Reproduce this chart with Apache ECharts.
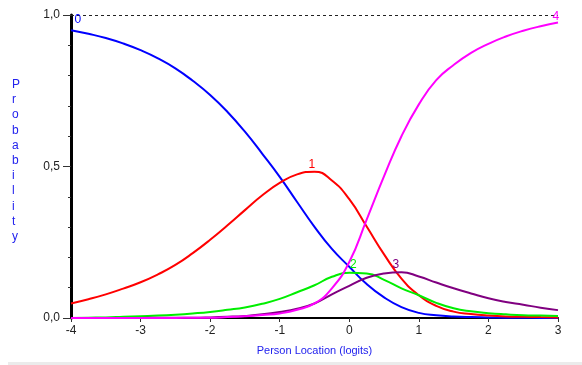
<!DOCTYPE html>
<html>
<head>
<meta charset="utf-8">
<script src="https://cdn.jsdelivr.net/npm/echarts@6/dist/echarts.min.js"></script>
<style>
  html, body { margin: 0; padding: 0; background: #fff; }
  #cv { width: 582px; height: 365px; }
</style>
</head>
<body>
<div id="cv"></div>
<script>
// person location (logits)
var theta = [-4, -3.75, -3.5, -3.25, -3, -2.75, -2.5, -2.25, -2, -1.75, -1.5, -1.25, -1, -0.75,
    -0.5, -0.25, 0, 0.25, 0.5, 0.75, 1, 1.25, 1.5, 1.75, 2, 2.25, 2.5, 2.75, 3];

// category probability curves
var cat0 = [0.950, 0.938, 0.924, 0.906, 0.884, 0.857, 0.824, 0.783, 0.736, 0.680, 0.615, 0.542, 0.466, 0.383,
    0.301, 0.228, 0.169, 0.112, 0.068, 0.036, 0.017, 0.009, 0.005, 0.003, 0.002, 0.001, 0.001, 0.000, 0.000];
var cat1 = [0.048, 0.062, 0.078, 0.097, 0.118, 0.144, 0.175, 0.214, 0.258, 0.306, 0.356, 0.405, 0.446, 0.474,
    0.483, 0.454, 0.392, 0.302, 0.210, 0.130, 0.075, 0.040, 0.021, 0.013, 0.008, 0.005, 0.004, 0.003, 0.002];
var cat2 = [0.000, 0.001, 0.002, 0.004, 0.006, 0.008, 0.011, 0.015, 0.020, 0.027, 0.035, 0.047, 0.063, 0.085,
    0.108, 0.136, 0.149, 0.147, 0.126, 0.098, 0.075, 0.050, 0.032, 0.022, 0.016, 0.012, 0.009, 0.008, 0.007];
var cat3 = [0.000, 0.000, 0.000, 0.000, 0.000, 0.001, 0.001, 0.001, 0.002, 0.004, 0.007, 0.012, 0.020, 0.031,
    0.048, 0.078, 0.106, 0.133, 0.147, 0.151, 0.137, 0.117, 0.098, 0.081, 0.065, 0.053, 0.044, 0.034, 0.026];
var cat4 = [0.000, 0.000, 0.000, 0.000, 0.000, 0.000, 0.000, 0.001, 0.001, 0.003, 0.006, 0.010, 0.015, 0.027,
    0.048, 0.098, 0.185, 0.325, 0.468, 0.600, 0.705, 0.785, 0.835, 0.875, 0.905, 0.929, 0.948, 0.963, 0.975];

var catNames = ['0', '1', '2', '3', '4'];
var catColors = ['#0000ff', '#ff0000', '#00ee00', '#800080', '#ff00ff'];
// where the category number sits [logit, probability]
var catLabelAt = [[-3.9, 0.985], [-0.54, 0.505], [0.06, 0.175], [0.67, 0.175], [2.97, 0.993]];

var yTicks = ['0,0', '0,5', '1,0'];

var font = '"Liberation Sans", Arial, sans-serif';

function pairs(ys) {
    return theta.map(function (t, i) { return [t, ys[i]]; });
}

var curves = [cat0, cat1, cat2, cat3, cat4];
var series = curves.map(function (ys, k) {
    var s = {
        name: catNames[k],
        type: 'line',
        data: pairs(ys),
        smooth: 0.5,
        showSymbol: false,
        lineStyle: { color: catColors[k], width: 2 },
        itemStyle: { color: catColors[k] },
        markPoint: {
            symbol: 'circle',
            symbolSize: 0,
            data: [{ coord: catLabelAt[k] }],
            label: {
                show: true,
                position: 'inside',
                formatter: catNames[k],
                color: catColors[k],
                fontSize: 12,
                fontFamily: font
            }
        }
    };
    if (k === 0) {
        s.markLine = {
            silent: true,
            symbol: 'none',
            label: { show: false },
            lineStyle: { color: '#222', type: [3, 3], width: 1 },
            data: [{ yAxis: 1 }]
        };
    }
    return s;
});

var myChart = echarts.init(document.getElementById('cv'));

var option = {
    animation: false,
    grid: {
        left: 71,
        right: 24,
        top: 15,
        bottom: 47
    },
    xAxis: {
        type: 'value',
        min: -4,
        max: 3,
        interval: 1,
        name: 'Person Location (logits)',
        nameLocation: 'middle',
        nameGap: 27,
        nameTextStyle: { color: '#2222ee', fontSize: 11, fontFamily: font },
        axisLine: { onZero: false, lineStyle: { color: '#000', width: 2 } },
        axisTick: { length: 4, lineStyle: { color: '#333' } },
        axisLabel: { color: '#222', fontSize: 12, fontFamily: font, margin: 7 },
        splitLine: { show: false }
    },
    yAxis: [{
        type: 'value',
        min: 0,
        max: 1,
        interval: 0.1,
        axisLine: { show: true, onZero: false, lineStyle: { color: '#000', width: 3 } },
        axisTick: { length: 3, lineStyle: { color: '#333' } },
        axisLabel: { show: false },
        splitLine: { show: false }
    }, {
        type: 'value',
        position: 'left',
        min: 0,
        max: 1,
        interval: 0.5,
        axisLine: { show: false, onZero: false },
        axisTick: { show: true, length: 8, lineStyle: { color: '#333' } },
        axisLabel: {
            color: '#222',
            fontSize: 12,
            fontFamily: font,
            margin: 11,
            formatter: function (v) {
                return yTicks[Math.round(v * 2)];
            }
        },
        splitLine: { show: false }
    }],
    graphic: [{
        type: 'text',
        left: 12,
        top: 77,
        style: {
            text: 'Probability'.split('').join('\n'),
            fill: '#2222ee',
            fontSize: 12,
            lineHeight: 15.2,
            align: 'center',
            fontFamily: font
        }
    }, {
        type: 'rect',
        shape: { x: 8, y: 362, width: 574, height: 3 },
        style: { fill: '#ebebeb' }
    }],
    series: series
};
myChart.setOption(option);
</script>
</body>
</html>
